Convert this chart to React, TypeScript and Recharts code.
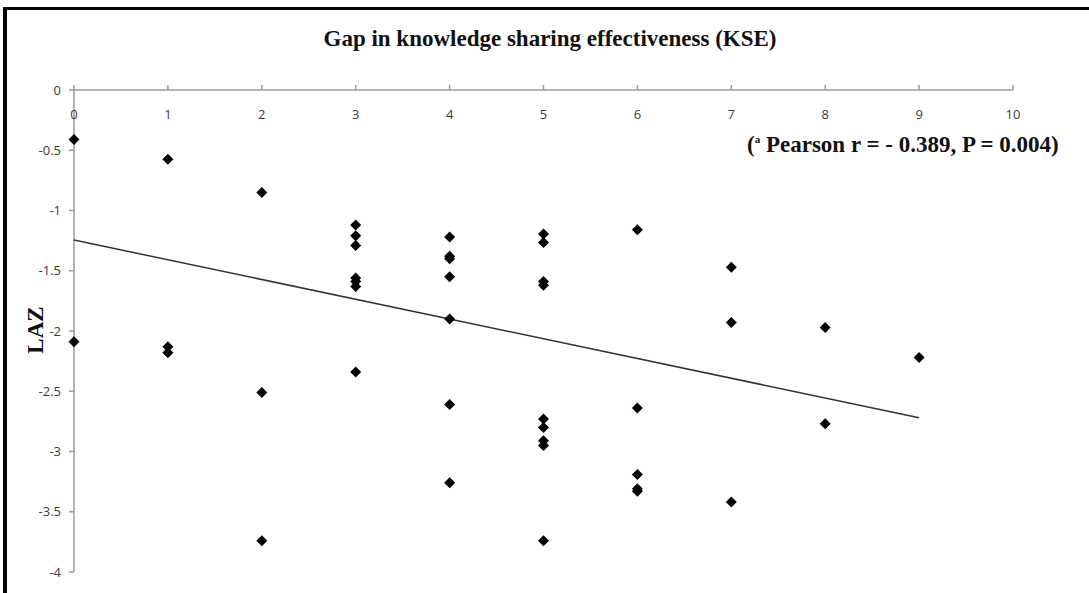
import { ScatterChart, Scatter, XAxis, YAxis } from "recharts";

// KSE gap (x) vs LAZ (y)
const gapValues = [
  0, 0,
  1, 1, 1,
  2, 2, 2,
  3, 3, 3, 3, 3, 3, 3,
  4, 4, 4, 4, 4, 4, 4,
  5, 5, 5, 5, 5, 5, 5, 5, 5,
  6, 6, 6, 6, 6,
  7, 7, 7,
  8, 8,
  9,
];
const lazValues = [
  -0.41, -2.09,
  -0.575, -2.13, -2.18,
  -0.85, -2.51, -3.74,
  -1.12, -1.21, -1.29, -1.56, -1.59, -1.63, -2.34,
  -1.22, -1.38, -1.4, -1.55, -1.9, -2.61, -3.26,
  -1.195, -1.265, -1.59, -1.62, -2.73, -2.8, -2.91, -2.95, -3.74,
  -1.16, -2.64, -3.19, -3.31, -3.33,
  -1.47, -1.93, -3.42,
  -1.97, -2.77,
  -2.22,
];

// linear trend endpoints
const trendX = [0, 9];
const trendY = [-1.245, -2.72];

const xTicks = [0, 1, 2, 3, 4, 5, 6, 7, 8, 9, 10];
const yTicks = [0, -0.5, -1, -1.5, -2, -2.5, -3, -3.5, -4];

const points = gapValues.map((x, i) => ({ x, y: lazValues[i] }));
const trend = trendX.map((x, i) => ({ x, y: trendY[i] }));

const sans = "'Open Sans', 'DejaVu Sans', sans-serif";
const serif = "'Liberation Serif', 'Times New Roman', serif";
const axisGrey = "#9a9a9a";
const labelGrey = "#3a3a3a";

// eslint-disable-next-line @typescript-eslint/no-explicit-any
const Diamond = (p: any) => {
  const { cx, cy } = p;
  const r = 5.5;
  return (
    <polygon
      points={`${cx},${cy - r} ${cx + r},${cy} ${cx},${cy + r} ${cx - r},${cy}`}
      fill="#000"
    />
  );
};

// x labels sit under the axis line, Excel style
// eslint-disable-next-line @typescript-eslint/no-explicit-any
const XTick = (p: any) => (
  <text
    x={p.x}
    y={p.y + 36}
    textAnchor="middle"
    fill={labelGrey}
    fontSize={13}
    fontFamily={sans}
  >
    {p.payload.value}
  </text>
);

export default function App() {
  return (
    <div style={{ position: "absolute", left: 0, top: 0, width: 1089, height: 593, background: "#fff" }}>
      <div
        style={{
          position: "absolute",
          left: 3,
          top: 7,
          right: 0,
          bottom: 0,
          borderLeft: "4px solid #000",
          borderTop: "3px solid #000",
        }}
      />
      <ScatterChart width={1089} height={593} margin={{ top: 70, right: 76, left: 14, bottom: 21 }}>
        <XAxis
          type="number"
          dataKey="x"
          orientation="top"
          height={20}
          domain={[0, 10]}
          ticks={xTicks}
          interval={0}
          stroke={axisGrey}
          strokeWidth={1.5}
          tickSize={5}
          tick={<XTick />}
        />
        <YAxis
          type="number"
          dataKey="y"
          domain={[-4, 0]}
          ticks={yTicks}
          interval={0}
          width={60}
          stroke={axisGrey}
          strokeWidth={1.5}
          tickSize={5}
          tickMargin={8}
          tick={{ fill: labelGrey, fontSize: 13, fontFamily: sans }}
        />
        <Scatter
          data={trend}
          line={{ stroke: "#333", strokeWidth: 1.5 }}
          shape={() => <g />}
          isAnimationActive={false}
        />
        <Scatter data={points} shape={<Diamond />} isAnimationActive={false} />
      </ScatterChart>
      <div
        style={{
          position: "absolute",
          left: 0,
          width: 1100,
          top: 26,
          textAlign: "center",
          fontFamily: serif,
          fontWeight: "bold",
          fontSize: 23,
          color: "#111",
          whiteSpace: "nowrap",
        }}
      >
        Gap in knowledge sharing effectiveness (KSE)
      </div>
      <div
        style={{
          position: "absolute",
          left: 747,
          top: 132,
          fontFamily: serif,
          fontWeight: "bold",
          fontSize: 23,
          color: "#111",
          whiteSpace: "nowrap",
        }}
      >
        (<sup style={{ fontSize: 11 }}>a</sup> Pearson r = - 0.389, P = 0.004)
      </div>
      <div
        style={{
          position: "absolute",
          left: 36,
          top: 330,
          transform: "translate(-50%, -50%) rotate(-90deg)",
          fontFamily: serif,
          fontWeight: "bold",
          fontSize: 23,
          color: "#111",
        }}
      >
        LAZ
      </div>
    </div>
  );
}
